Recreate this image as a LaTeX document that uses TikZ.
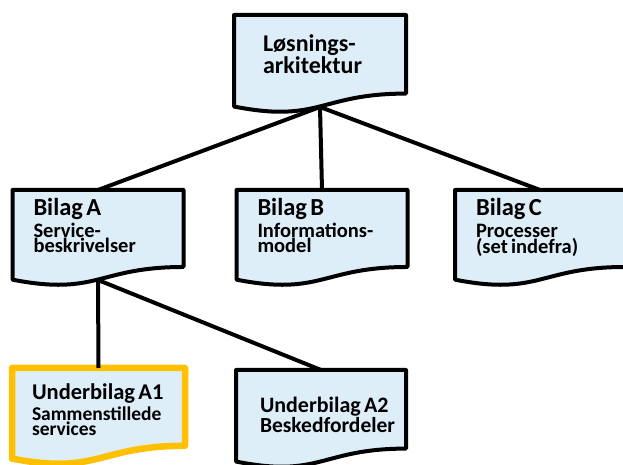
\documentclass[tikz,border=0pt]{standalone}
\usepackage{fontspec}
\setmainfont{Carlito}
\usetikzlibrary{calc,backgrounds}

\definecolor{docfill}{HTML}{DEEEF8}
\definecolor{docgold}{HTML}{FFC000}

\newcommand{\headfont}{\fontsize{24.5}{21}\selectfont}
\newcommand{\subfont}{\fontsize{20.5}{21.5}\selectfont}

% document outline with a wavy bottom, drawn round a node
\newcommand{\docoutline}[2]{%
  \path[#2] let \p1=(#1.north west), \p2=(#1.south east),
      \n1={\y1-\y2}, \n2={(\x1+\x2)/2} in
    (\x1,\y1) -- (\x2,\y1) -- (\x2,{\y2+0.198*\n1})
    .. controls (\n2,{\y2+0.198*\n1}) and (\n2,{\y2-0.107*\n1}) .. (\x1,{\y2+0.066*\n1})
    -- cycle;
}

\begin{document}
\lefthyphenmin=64
\begin{tikzpicture}[x=1pt, y=1pt,
    docbox/.style={align=left, outer sep=0pt, inner xsep=21pt, inner ysep=0pt,
      minimum height=96pt, font=\bfseries, text height=16pt},
    docline/.style={draw=black, line width=4pt, line join=round, fill=docfill},
    link/.style={line width=4pt}]
    \useasboundingbox (0,0) rectangle (623,465);

    \node[docbox, inner xsep=29pt, text width=114pt, minimum height=98pt, text depth=40pt] (los) at (320,401)
        {\fontsize{24}{25}\selectfont Løsnings-\\arkitektur};

    \node[docbox, text width=129pt, text depth=60.6pt] (bilA) at (98,227)
        {\headfont Bilag A\\\subfont Service-\\beskrivelser};
    \node[docbox, text width=129pt, text depth=60.6pt] (bilB) at (322,227)
        {\headfont Bilag B\\\subfont Informations-\\model};
    \node[docbox, text width=128pt, text depth=60.6pt] (bilC) at (540,227)
        {\headfont Bilag C\\\subfont Processer\\(set indefra)};

    \node[docbox, inner xsep=20pt, text width=133pt, minimum height=97pt, text depth=49pt] (subA1) at (98.5,48.5)
        {\fontsize{22.5}{20.5}\selectfont Underbilag~A1\\\fontsize{19.5}{20.5}\selectfont Sammenstillede\\services};
    \node[docbox, inner xsep=24pt, text width=122pt, minimum height=98pt, text depth=28pt] (subA2) at (321,46)
        {\fontsize{22}{22}\selectfont Underbilag~A2\\\fontsize{21.5}{22}\selectfont Beskedfordeler};

    \begin{scope}[on background layer]
        \foreach \b in {los,bilA,bilB,bilC,subA2}
            {\docoutline{\b}{docline}}
        \docoutline{subA1}{docline, draw=docgold, line width=6.5pt}
    \end{scope}

    \coordinate (los-foot) at ([yshift=6pt]los.south);
    \coordinate (bilA-foot) at ([yshift=6pt]bilA.south);

    \foreach \b in {bilA,bilB,bilC}
        \draw[link] (los-foot) -- (\b.north);
    \foreach \b in {subA1,subA2}
        \draw[link] (bilA-foot) -- (\b.north);
\end{tikzpicture}
\end{document}
